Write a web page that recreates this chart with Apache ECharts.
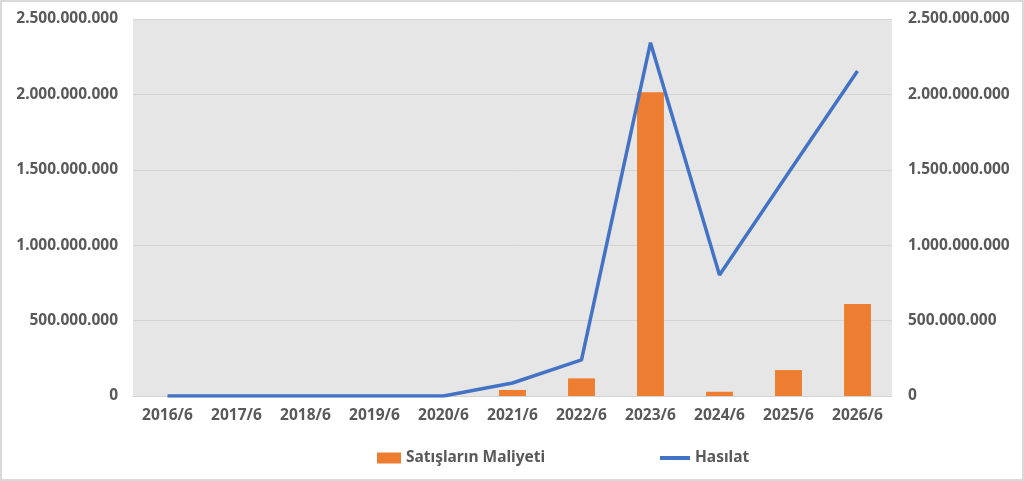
<!DOCTYPE html>
<html><head><meta charset="utf-8">
<script src="https://cdn.jsdelivr.net/npm/echarts@6/dist/echarts.min.js"></script>
<style>html,body{margin:0;padding:0;background:#fff}#c{width:1024px;height:481px;box-sizing:border-box;border:2px solid #d9d9d9}</style>
</head><body><div id="c"></div>
<script>
const categories = ['2016/6','2017/6','2018/6','2019/6','2020/6','2021/6','2022/6','2023/6','2024/6','2025/6','2026/6'];
const satislarinMaliyeti = [0,0,0,0,0,40000000,117000000,2015000000,28000000,172000000,610000000];
const hasilat = [0,0,0,0,0,86000000,239000000,2343000000,802000000,1480000000,2155000000];
const yTicks = [0,500000000,1000000000,1500000000,2000000000,2500000000];

function fmt(v){ return String(Math.round(v)).replace(/\B(?=(\d{3})+(?!\d))/g,'.'); }
const chart = echarts.init(document.getElementById('c'));
const font = {fontFamily:'Noto Sans', fontSize:15.5, fontWeight:'bold', color:'#595959'};
chart.setOption({
  animation:false,
  grid:{left:131,right:130,top:17,bottom:83,backgroundColor:'#e6e6e6',show:true,borderWidth:0},
  legend:[
    {data:[{name:'Satışların Maliyeti',icon:'rect'}],left:370,top:443,itemWidth:24,itemHeight:11,itemGap:6,textStyle:font},
    {data:[{name:'Hasılat',icon:'rect'}],left:653,top:443,itemWidth:30,itemHeight:4,textStyle:font}
  ],
  xAxis:{type:'category',data:categories,axisTick:{show:false},
    axisLine:{lineStyle:{color:'#d4d4d4'}},axisLabel:Object.assign({margin:12},font)},
  yAxis:[
    {type:'value',min:0,max:2500000000,interval:500000000,
     axisLabel:Object.assign({formatter:fmt,margin:15},font),
     splitLine:{lineStyle:{color:'#d4d4d4'}},axisLine:{show:false},axisTick:{show:false}},
    {type:'value',min:0,max:2500000000,interval:500000000,position:'right',
     axisLabel:Object.assign({formatter:fmt,margin:16},font),
     splitLine:{show:false},axisLine:{show:false},axisTick:{show:false}}
  ],
  series:[
    {name:'Satışların Maliyeti',type:'bar',data:satislarinMaliyeti,barWidth:'39%',itemStyle:{color:'#ED7D31'}},
    {name:'Hasılat',type:'line',yAxisIndex:1,data:hasilat,symbol:'none',lineStyle:{color:'#4472C4',width:3.5},itemStyle:{color:'#4472C4'}}
  ]
});
</script></body></html>
